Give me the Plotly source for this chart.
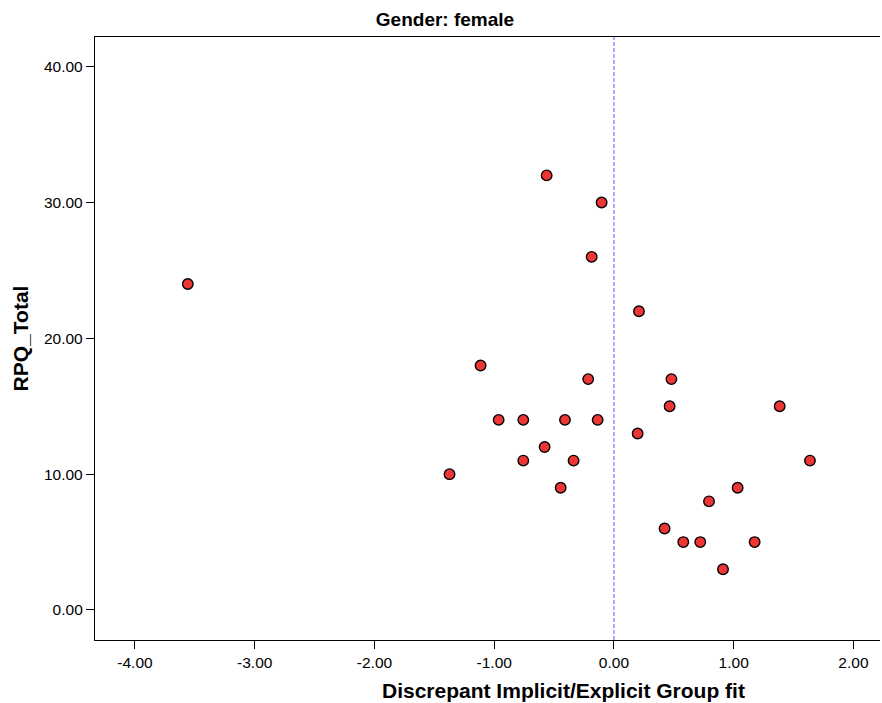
import plotly.graph_objects as go

# Data
discrepancy = [-0.562, -0.103, -0.186, 0.209,
               -1.114, -0.215, 0.480, 0.465, -0.963, -0.757, -0.409, -0.136,
               0.198, -0.579, -0.757, -0.337, -1.373, -0.445,
               1.384, 1.637, 1.033, 0.794, 0.423, 0.579, 0.721, 1.175, 0.911,
               -3.559]
rpq_total = [32, 30, 26, 22,
             18, 17, 17, 15, 14, 14, 14, 14,
             13, 12, 11, 11, 10, 9,
             15, 11, 9, 8, 6, 5, 5, 5, 3,
             24]
x_ticks = [-4, -3, -2, -1, 0, 1, 2]
y_ticks = [0, 10, 20, 30, 40]
x_tick_labels = [f"{v:.2f}" for v in x_ticks]
y_tick_labels = [f"{v:.2f}" for v in y_ticks]
ref_x = 0

W, H = 882, 703
ML, MR, MT, MB = 95, 2, 37, 63
plot_w = W - ML - MR
plot_h = H - MT - MB

fig = go.Figure()
fig.add_trace(go.Scatter(
    x=discrepancy, y=rpq_total, mode="markers",
    marker=dict(size=10.5, color="#EE3636", line=dict(color="black", width=1.4)),
    showlegend=False, hoverinfo="x+y"))

fig.add_shape(type="line", x0=ref_x, x1=ref_x, y0=0, y1=1, yref="paper", xref="x",
              line=dict(color="#5C5CFF", width=1, dash="4px,2px"), layer="below")

# x-axis title (offset to the right as in the original)
fig.add_annotation(text="<b>Discrepant Implicit/Explicit Group fit</b>",
                   xref="paper", yref="paper",
                   x=(563.5 - ML) / plot_w, y=(MT + plot_h - 690) / plot_h,
                   xanchor="center", yanchor="middle", showarrow=False,
                   font=dict(size=21))

fig.update_layout(
    width=W, height=H,
    margin=dict(l=ML, r=MR, t=MT, b=MB),
    plot_bgcolor="white", paper_bgcolor="white",
    font=dict(family="Liberation Sans, Arial, sans-serif", color="black", size=15),
    title=dict(text="<b>Gender: female</b>", x=445/882, xref="container", xanchor="center",
               y=1 - 19/703, yanchor="middle", font=dict(size=19)),
    xaxis=dict(range=[-4.334, 2.222], tickvals=x_ticks, ticktext=x_tick_labels,
               showgrid=False, zeroline=False, showline=True, linecolor="black", linewidth=1.3,
               mirror=True, ticks="outside", ticklen=8, tickwidth=1.3, tickcolor="black",
               tickfont=dict(size=15.5)),
    yaxis=dict(range=[-2.21, 42.19], tickvals=y_ticks, ticktext=y_tick_labels,
               showgrid=False, zeroline=False, showline=True, linecolor="black", linewidth=1.3,
               ticks="outside", ticklen=8, tickwidth=1.3, tickcolor="black",
               tickfont=dict(size=15.5),
               title=dict(text="<b>RPQ_Total</b>", font=dict(size=21), standoff=9)),
)

fig.write_html("out.html", config={"displayModeBar": False},
               post_script="document.body.style.margin='0';document.body.style.overflow='hidden';")
